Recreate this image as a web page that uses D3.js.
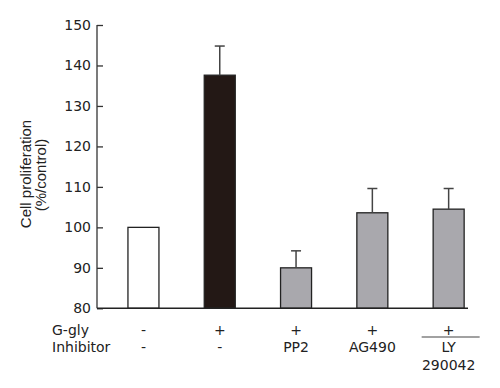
<!DOCTYPE html>
<html>
<head>
    <meta charset="utf-8">
    <title>Cell proliferation</title>
    <script src="https://d3js.org/d3.v7.min.js"></script>
    <style>
        body { margin: 0; background: #fff; }
    </style>
</head>
<body>
    <div id="chart"></div>
    <script>
        // data
        var groups = ["ctrl", "ggly", "pp2", "ag490", "ly"];
        var values = [100, 137.6, 90, 103.6, 104.5];
        var errors = [0, 7.2, 4.2, 6, 5.1];
        var gglyRow = ["-", "+", "+", "+", "+"];
        var inhibitorRow = ["-", "-", "PP2", "AG490", "LY"];
        var inhibitorRow2 = ["", "", "", "", "290042"];
        var yTicks = [80, 90, 100, 110, 120, 130, 140, 150];
        var fills = ["#ffffff", "#231815", "#a9a8ad", "#a9a8ad", "#a9a8ad"];

        var width = 500, height = 388;
        var axisX = 97, axisY = 308.3;

        var svg = d3.select("#chart").append("svg")
            .attr("width", width)
            .attr("height", height);

        var y = d3.scaleLinear().domain([80, 150]).range([axisY, 25]);
        var x = d3.scalePoint().domain(groups).range([105.3, 486.8]).padding(0.5);
        var barW = 31;

        // y axis, ticks pointing inward
        var yAxis = svg.append("g")
            .attr("transform", "translate(" + axisX + ",0)")
            .call(d3.axisRight(y).tickValues(yTicks).tickSize(6).tickFormat(d3.format("d")));
        yAxis.select(".domain").attr("stroke", "#333").attr("stroke-width", 1.3)
            .attr("d", "M0," + y(150) + "V" + axisY);
        yAxis.selectAll(".tick line").attr("stroke", "#333").attr("stroke-width", 1.3);
        yAxis.selectAll(".tick text")
            .attr("x", -6)
            .attr("text-anchor", "end")
            .style("font-family", "'DejaVu Sans', sans-serif")
            .style("font-size", "14px")
            .attr("fill", "#222");

        // bars
        svg.selectAll(".bar")
            .data(groups)
            .enter().append("rect")
            .attr("class", "bar")
            .attr("x", function (d) { return x(d) - barW / 2; })
            .attr("y", function (d, i) { return y(values[i]); })
            .attr("width", barW)
            .attr("height", function (d, i) { return axisY - y(values[i]); })
            .attr("fill", function (d, i) { return fills[i]; })
            .attr("stroke", "#222")
            .attr("stroke-width", 1.3);

        // error bars
        var eb = svg.selectAll(".err")
            .data(groups.filter(function (d, i) { return errors[i] > 0; }))
            .enter().append("g");
        eb.append("line")
            .attr("x1", function (d) { return x(d); })
            .attr("x2", function (d) { return x(d); })
            .attr("y1", function (d) { var i = groups.indexOf(d); return y(values[i]); })
            .attr("y2", function (d) { var i = groups.indexOf(d); return y(values[i] + errors[i]); })
            .attr("stroke", "#444").attr("stroke-width", 1.5);
        eb.append("line")
            .attr("x1", function (d) { return x(d) - 5; })
            .attr("x2", function (d) { return x(d) + 5; })
            .attr("y1", function (d) { var i = groups.indexOf(d); return y(values[i] + errors[i]); })
            .attr("y2", function (d) { var i = groups.indexOf(d); return y(values[i] + errors[i]); })
            .attr("stroke", "#444").attr("stroke-width", 1.5);

        // x axis line
        svg.append("line")
            .attr("x1", axisX).attr("x2", 468)
            .attr("y1", axisY).attr("y2", axisY)
            .attr("stroke", "#222").attr("stroke-width", 1.4);

        // y title
        svg.append("text")
            .attr("transform", "translate(31,174) rotate(-90)")
            .attr("text-anchor", "middle")
            .style("font-family", "'Liberation Sans', Arial, sans-serif")
            .style("font-size", "15px")
            .attr("fill", "#222")
            .text("Cell proliferation");
        svg.append("text")
            .attr("transform", "translate(46,175) rotate(-90)")
            .attr("text-anchor", "middle")
            .style("font-family", "'Liberation Sans', Arial, sans-serif")
            .style("font-size", "15px")
            .attr("fill", "#222")
            .text("(%/control)");

        // treatment table under the axis
        var font = "'DejaVu Sans', sans-serif";
        function row(labels, yy) {
            svg.selectAll(null)
                .data(groups)
                .enter().append("text")
                .attr("x", function (d) { return x(d); })
                .attr("y", yy)
                .attr("text-anchor", "middle")
                .style("font-family", font)
                .style("font-size", "14px")
                .attr("fill", "#222")
                .text(function (d, i) { return labels[i]; });
        }
        row(gglyRow, 335);
        row(inhibitorRow, 352);
        row(inhibitorRow2, 370);

        svg.append("text").attr("x", 52).attr("y", 335)
            .style("font-family", font).style("font-size", "14px").attr("fill", "#222")
            .text("G-gly");
        svg.append("text").attr("x", 52).attr("y", 352)
            .style("font-family", font).style("font-size", "14px").attr("fill", "#222")
            .text("Inhibitor");

        // rule over LY 290042
        svg.append("line")
            .attr("x1", x("ly") - 27).attr("x2", x("ly") + 31)
            .attr("y1", 337).attr("y2", 337)
            .attr("stroke", "#444").attr("stroke-width", 1.2);
    </script>
</body>
</html>
